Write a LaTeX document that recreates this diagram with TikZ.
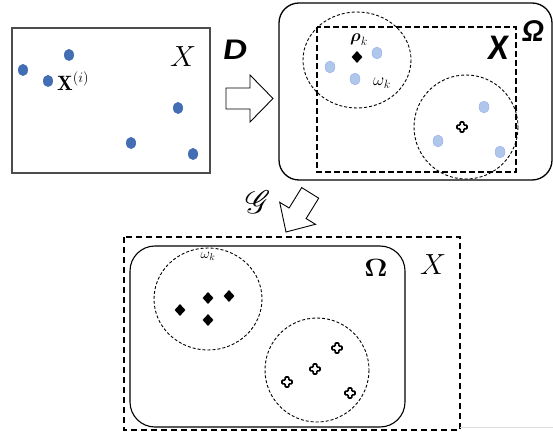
\documentclass[tikz,border=0pt]{standalone}
\usepackage{amsmath}
\usepackage{mathrsfs}
\usepackage{fontspec}
\newfontfamily\calib{Carlito}
\usetikzlibrary{shapes.geometric}
\definecolor{dotblue}{RGB}{68,110,180}
\definecolor{lightdot}{RGB}{176,199,236}
\begin{document}
\begin{tikzpicture}[x=1pt,y=-1pt,
  dotm/.style={ellipse,fill=dotblue,minimum width=10pt,minimum height=12pt,inner sep=0pt},
  ldotm/.style={ellipse,fill=lightdot,draw=lightdot!85!blue,line width=0.4pt,minimum width=10pt,minimum height=12pt,inner sep=0pt},
  diam/.style={diamond,fill=black,minimum width=11pt,minimum height=12pt,inner sep=0pt},
  plusm/.style={minimum size=12pt,inner sep=0pt,
    path picture={\draw[line width=1.6pt,rounded corners=0.8pt]
      ([shift={(-1.8pt,-5pt)}]path picture bounding box.center) -- ++(3.6pt,0) -- ++(0,3.2pt) -- ++(3.2pt,0) -- ++(0,3.6pt) -- ++(-3.2pt,0) -- ++(0,3.2pt) -- ++(-3.6pt,0) -- ++(0,-3.2pt) -- ++(-3.2pt,0) -- ++(0,-3.6pt) -- ++(3.2pt,0) -- cycle;}},
  dcirc/.style={draw,dash pattern=on 3pt off 2pt,line width=0.9pt},
  blockarrow/.style={draw,line width=0.9pt,fill=white,line join=miter},
  bigx/.style={font=\fontsize{24.88}{27}\selectfont,scale=1.17}
]
\useasboundingbox (0,0) rectangle (553,435);

% ---- top-left box ----
\draw[gray!60!black,line width=1.4pt] (12,28) rectangle (210,173);
\node[dotm] (p1) at (23,70) {};
\node[dotm] (p2) at (69,55) {};
\node[dotm] (p3) at (48,81) {};
\node[dotm] (p4) at (178,108) {};
\node[dotm] (p5) at (131,143) {};
\node[dotm] (p6) at (193,154) {};
\node[anchor=west,inner sep=0pt,font=\fontsize{20.74}{22}\selectfont] (xi) at (57,81) {$\mathbf{X}^{(i)}$};
\node[bigx] (xl1) at (183,57) {$X$};

% ---- D arrow ----
\node[font=\calib\bfseries\itshape\fontsize{30}{32}\selectfont,xscale=1.25] (dl) at (235,50) {D};
\draw[blockarrow] (226,88) -- (250,88) -- (250,75) -- (273,98.5) -- (250,122) -- (250,109) -- (226,109) -- cycle;

% ---- top-right box ----
\draw[line width=1.3pt,rounded corners=20pt] (279,3) rectangle (552,180);
\draw[line width=1.2pt,dash pattern=on 6pt off 3pt] (317,27) rectangle (516,172);
\draw[dcirc] (357,60) ellipse [x radius=54, y radius=48];
\draw[dcirc] (466,127) circle [radius=52];
\node[diam] (rk) at (357,57) {};
\node[font=\fontsize{17.28}{19}\selectfont,inner sep=0pt] (rkl) at (359,40) {$\boldsymbol{\rho}_{k}$};
\node[ldotm] (q1) at (377,53) {};
\node[ldotm] (q2) at (330,67) {};
\node[ldotm] (q3) at (355,79) {};
\node[ldotm] (q4) at (484,107) {};
\node[ldotm] (q5) at (438,141) {};
\node[ldotm] (q6) at (500,152) {};
\node[plusm] (s0) at (462,127) {};
\node[font=\fontsize{17.28}{19}\selectfont,inner sep=0pt] (wk1) at (382,83) {$\omega_{k}$};
\node[font=\calib\bfseries\itshape\fontsize{36}{38}\selectfont] (xl2) at (498,48) {X};
\node[font=\calib\bfseries\itshape\fontsize{32}{34}\selectfont] (om1) at (533,31) {Ω};

% ---- G arrow ----
\node[font=\fontsize{24.88}{27}\selectfont,scale=1.3] (gl) at (258,202) {$\mathscr{G}$};
\draw[blockarrow] (301.7,187.6) -- (289.1,208.0) -- (279.7,202.3) -- (286,232) -- (315.5,224.3) -- (306.1,218.6) -- (318.7,198.2) -- cycle;

% ---- bottom ----
\draw[line width=1.7pt,dash pattern=on 6pt off 4pt] (124,237) rectangle (460,430);
\draw[line width=1.1pt,rounded corners=25pt] (130,246) rectangle (405,427);
\draw[dcirc] (208,299) ellipse [x radius=54, y radius=51];
\draw[dcirc] (317,370) circle [radius=52];
\node[font=\fontsize{14.4}{16}\selectfont,inner sep=0pt] (wk2) at (208,256) {$\omega_{k}$};
\node[diam] (d1) at (180,310) {};
\node[diam] (d2) at (208,298) {};
\node[diam] (d3) at (229,296) {};
\node[diam] (d4) at (208,320) {};
\node[plusm] (s1) at (337,348) {};
\node[plusm] (s2) at (315,369) {};
\node[plusm] (s3) at (287,382) {};
\node[plusm] (s4) at (350,393) {};
\node[font=\fontsize{24.88}{26}\selectfont,xscale=1.15] (om2) at (376,268) {$\boldsymbol{\Omega}$};
\node[bigx] (xl3) at (433,265) {$X$};
\draw[gray!25,line width=0.8pt] (460,427) -- (553,427);
\end{tikzpicture}
\end{document}
